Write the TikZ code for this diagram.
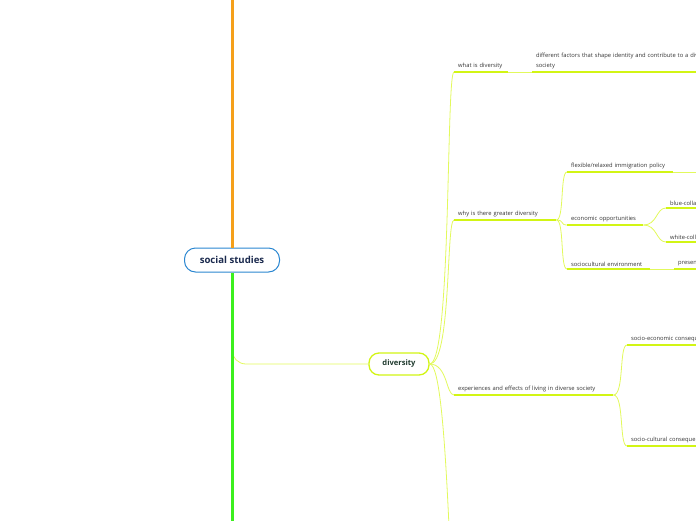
\documentclass[tikz,border=0pt]{standalone}
\usepackage{fontspec}
\setmainfont{Open Sans}
\usetikzlibrary{positioning}

\definecolor{rootblue}{HTML}{2B87D1}
\definecolor{rootink}{HTML}{1B2A4E}
\definecolor{mainink}{HTML}{1F3A2E}
\definecolor{topicink}{HTML}{333333}
\definecolor{lime}{HTML}{D2F514}
\definecolor{twiglime}{HTML}{E2F95C}
\definecolor{stemorange}{HTML}{F5A01A}
\definecolor{stemgreen}{HTML}{3CF01E}

\begin{document}
\begin{tikzpicture}[
  x=1pt, y=-1pt,
  rootbox/.style={draw=rootblue, line width=1pt, rounded corners=11pt, fill=white,
    minimum width=95pt, minimum height=24pt, font=\bfseries\fontsize{9.6}{11}\selectfont, text=rootink},
  mainbox/.style={draw=lime, line width=1.3pt, rounded corners=10pt, fill=white,
    minimum width=60pt, minimum height=22pt, font=\bfseries\fontsize{7.6}{9}\selectfont, text=mainink},
  topic/.style={anchor=south west, inner xsep=4pt, inner ysep=2.5pt, text width=#1,
    align=left, font=\fontsize{5.8}{10}\selectfont, text=topicink},
  bar/.style={draw=lime, line width=1.5pt},
  twig/.style={draw=twiglime, line width=0.8pt},
  trunk/.style={line width=3pt}
]
\useasboundingbox (0,0) rectangle (696,520);
\clip (0,0) rectangle (696,520);

% Central and main topics
\node[rootbox] (root) at (232,260) {social studies};
\node[mainbox] (div)  at (399,364) {diversity};

% Off-page ends
\coordinate (up)       at (232,-40);
\coordinate (down)     at (232,580);
\coordinate (divnext)  at (458,660);
\coordinate (flexnext) at (730,172);

% Sub-topics (text sits on its underline)
\node[topic=46pt]  (what)  at (454,72)  {\mbox{what is diversity}};
\node[topic=200pt] (factors) at (532,72) {\mbox{different factors that shape identity and contribute to a diverse}\\ society};
\node[topic=94pt]  (why)   at (454,220) {\mbox{why is there greater diversity}};
\node[topic=98pt]  (flex)  at (567,172) {\mbox{flexible/relaxed immigration policy}};
\node[topic=68pt]  (econ)  at (567,225) {\mbox{economic opportunities}};
\node[topic=60pt]  (blue)  at (666,208) {\mbox{blue-collar}};
\node[topic=60pt]  (white) at (666,242) {\mbox{white-collar}};
\node[topic=75pt]  (socio) at (567,269) {\mbox{sociocultural environment}};
\node[topic=60pt]  (pres)  at (674,269) {\mbox{presence}};
\node[topic=151pt] (exper) at (454,395) {\mbox{experiences and effects of living in diverse society}};
\node[topic=120pt] (secon) at (627,345) {\mbox{socio-economic consequences}};
\node[topic=120pt] (scult) at (627,446) {\mbox{socio-cultural consequences}};

% --- root -> diversity ---
\draw[twig, rounded corners=14pt] (root.south) |- (div.west);

% --- root -> off-page branches ---
\draw[trunk, draw=stemorange] (root.north) -- (up);
\draw[trunk, draw=stemgreen]  (root.south) -- (down);

% --- diversity -> its topics ---
\draw[twig] (div.east) .. controls +(22,0) and +(-8,0) .. (what.south west);
\draw[twig] (div.east) .. controls +(22,0) and +(-8,0) .. (why.south west);
\draw[twig] (div.east) .. controls +(18,0) and +(-8,0) .. (exper.south west);
\draw[twig] (div.east) .. controls +(20,0) and +(-8,0) .. (divnext);

% --- second level ---
\draw[twig] (what.south east) -- (factors.south west);
\draw[twig] (why.south east) .. controls +(8,0) and +(-7,0) .. (flex.south west);
\draw[twig] (why.south east) .. controls +(8,0) and +(-7,0) .. (econ.south west);
\draw[twig] (why.south east) .. controls +(8,0) and +(-7,0) .. (socio.south west);
\draw[twig] (flex.south east) -- (flexnext);
\draw[twig] (econ.south east) .. controls +(14,0) and +(-10,0) .. (blue.south west);
\draw[twig] (econ.south east) .. controls +(14,0) and +(-10,0) .. (white.south west);
\draw[twig] (socio.south east) -- (pres.south west);
\draw[twig] (exper.south east) .. controls +(11,0) and +(-8,0) .. (secon.south west);
\draw[twig] (exper.south east) .. controls +(11,0) and +(-8,0) .. (scult.south west);

% Underlines
\foreach \n in {what,factors,why,flex,econ,blue,white,socio,pres,exper,secon,scult}
  \draw[bar] (\n.south west) -- (\n.south east);

\end{tikzpicture}
\end{document}
